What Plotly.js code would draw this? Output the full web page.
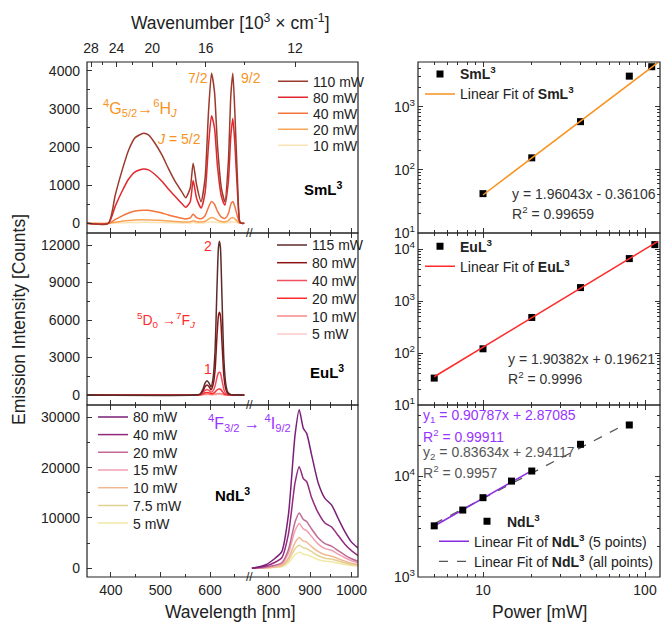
<!DOCTYPE html>
<html><head><meta charset="utf-8">
<script src="https://cdn.plot.ly/plotly-3.0.1.min.js"></script>
<style>html,body{margin:0;padding:0;background:#fff;}#chart{width:661px;height:624px;}</style>
</head><body><div id="chart"></div>
<script>
// ---------- data ----------
const smWl = [352,395,409,422,436,449,466,476,489,503,516,530,543,551,560,566,573,582,590,597,603,609,615,623,630,637,642,646,650,656,660,664,669];
const smNames = ['110 mW','80 mW','40 mW','20 mW','10 mW'];
const sm110 = [0,0,743,1355,1923,2246,2360,2316,2098,1792,1442,1093,830,673,918,1573,1005,568,1180,2928,3933,3452,2054,918,568,1617,3365,3933,2928,918,44,0,0];
const sm80  = [0,0,450,820,1160,1350,1425,1400,1280,1100,900,700,520,420,560,1120,650,400,800,2050,2820,2500,1500,700,480,1100,2300,2750,2100,650,40,0,0];
const sm40  = [0,0,100,190,270,320,345,340,310,270,220,170,130,115,140,240,150,120,200,420,570,500,320,160,130,250,500,570,440,150,10,0,0];
const sm20  = [0,0,30,55,75,88,92,90,82,72,60,48,38,33,40,65,42,35,55,110,150,130,85,45,38,70,135,150,115,40,3,0,0];
const sm10  = [0,0,8,15,20,23,25,24,22,19,16,13,10,9,11,18,11,9,15,30,40,35,23,12,10,19,36,40,31,11,1,0,0];

const euWl = [352,570,580,586,590,594,598,602,606,610,614,617,619,621,624,628,632,636,642,669];
const euNames = ['115 mW','80 mW','40 mW','20 mW','10 mW','5 mW'];
const eu115 = [0,0,80,500,950,1150,950,650,1300,3400,8500,11800,12300,11800,8000,2800,800,200,30,0];
const eu80  = [0,0,55,350,660,800,660,420,800,1900,4700,6350,6620,6350,4300,1500,430,110,15,0];
const eu40  = [0,0,30,200,370,450,370,230,330,700,1400,1780,1830,1760,1200,430,130,35,5,0];
const eu20  = [0,0,15,95,175,210,175,110,130,230,400,470,486,465,320,115,35,10,2,0];
const eu10  = [0,0,6,36,66,80,66,42,50,75,105,118,121,116,80,30,9,3,1,0];
const eu5   = [0,0,2,14,25,30,25,16,18,24,30,33,33,31,22,9,3,1,0,0];

const ndWl = [760,792,816,832,848,864,874,884,892,904,920,936,952,968,984,1000,1016];
const ndNames = ['80 mW','40 mW','20 mW','15 mW','10 mW','7.5 mW','5 mW'];
const nd80 = [0,650,2000,3300,10600,26500,31500,27800,26800,22500,16900,13900,12600,9900,7300,5200,4000];
const nd40 = [0,400,1200,2100,6800,17000,20200,17800,17200,14000,11000,9000,8200,6500,4800,3500,2500];
const nd20 = [0,200,600,1100,3700,9200,11000,9700,9300,7800,6000,4900,4400,3500,2600,1900,1400];
const nd15 = [0,150,500,900,3000,7500,8900,7800,7500,6300,4800,3900,3600,2800,2100,1500,1100];
const nd10 = [0,100,330,600,2000,5100,6100,5400,5200,4300,3300,2700,2400,1900,1400,1000,750];
const nd7  = [0,80,250,450,1550,3900,4600,4050,3900,3300,2500,2000,1850,1450,1050,750,580];
const nd5  = [0,50,170,320,1080,2700,3200,2800,2700,2300,1700,1400,1300,1000,750,530,400];

const smPower = [10,20,40,80,110];
const smInt   = [42,155,580,3050,4300];
const smFitX  = [10,120];
const smFitY  = [40,5000];
const euPower = [5,10,20,40,80,115];
const euInt   = [33,121,486,1830,6620,12300];
const euFitX  = [5,120];
const euFitY  = [35,14200];
const ndPower = [5,7.5,10,15,20,40,80];
const ndInt   = [3210,4600,6100,8900,11200,20600,32000];
const ndFit1X = [5,20];
const ndFit1Y = [3200,11300];
const ndFit2X = [5,80];
const ndFit2Y = [3360,34000];

const wnLabels = ['28','24','20','16','12'];
const wnMinor = [26,22,18,14];

// ---------- styling ----------
const F = 'Liberation Sans, Arial, Helvetica, sans-serif';
const TC = '#222';
const smColors = ['#9c3a2c','#e0282e','#f4743c','#f8a65a','#fbe3b4'];
const euColors = ['#5e2b2b','#8b1414','#f0505c','#ff2a2a','#f88888','#fcc8c8'];
const ndColors = ['#7a1f78','#932a7e','#c06b95','#f29fb0','#f1b894','#e2d291','#f2e9a6'];
const ORANGE = '#f7931e', RED = '#ff2b2b', PURPLE = '#9933ff';

function px(x){ return x/661; }
function py(y){ return 1 - y/624; }

const legends = {};
let legN = 0;
function legendFor(x, yc, size){
  legN++;
  const id = legN === 1 ? 'legend' : 'legend' + legN;
  legends[id] = {x:px(x),y:py(yc),xanchor:'left',yanchor:'middle',bgcolor:'rgba(0,0,0,0)',borderwidth:0,
    font:{family:F,size:size,color:TC},itemclick:false,itemdoubleclick:false};
  return id;
}

const traces = [];
function addSeries(wl, sets, names, colors, xa, ya, lx, ly0, step){
  const ids = names.map((n,i)=>legendFor(lx, ly0 + i*step, 14));
  for(let i = sets.length-1; i >= 0; i--){
    traces.push({x:wl,y:sets[i],xaxis:xa,yaxis:ya,name:names[i],mode:'lines',
      line:{color:colors[i],width:1.5,shape:'spline',smoothing:0.6},legend:ids[i],hoverinfo:'skip'});
  }
}
addSeries(smWl,[sm110,sm80,sm40,sm20,sm10],smNames,smColors,'x','y',273,81.7,16);
addSeries(euWl,[eu115,eu80,eu40,eu20,eu10,eu5],euNames,euColors,'x3','y2',272,245.3,17.8);
addSeries(ndWl,[nd80,nd40,nd20,nd15,nd10,nd7,nd5],ndNames,ndColors,'x6','y3',93,417.3,17.7);

// empty traces so every axis pair is a subplot
[['x2','y'],['x4','y2'],['x5','y3'],['x7','y']].forEach(p=>traces.push({x:[null],y:[null],xaxis:p[0],yaxis:p[1],mode:'lines',showlegend:false,hoverinfo:'skip'}));

const mk = {symbol:'square',size:7,color:'#000'};
traces.push({x:smPower,y:smInt,xaxis:'x8',yaxis:'y4',mode:'markers',marker:mk,name:'<b>SmL<sup>3</sup></b>',legend:legendFor(420,74.3,14)});
traces.push({x:smFitX,y:smFitY,xaxis:'x8',yaxis:'y4',mode:'lines',line:{color:ORANGE,width:1.5},name:'Linear Fit of <b>SmL<sup>3</sup></b>',legend:legendFor(420,94.3,14)});
traces.push({x:euPower,y:euInt,xaxis:'x9',yaxis:'y5',mode:'markers',marker:mk,name:'<b>EuL<sup>3</sup></b>',legend:legendFor(420,246.7,14)});
traces.push({x:euFitX,y:euFitY,xaxis:'x9',yaxis:'y5',mode:'lines',line:{color:RED,width:1.5},name:'Linear Fit of <b>EuL<sup>3</sup></b>',legend:legendFor(420,266.7,14)});
traces.push({x:ndFit2X,y:ndFit2Y,xaxis:'x10',yaxis:'y6',mode:'lines',line:{color:'#555',width:1.3,dash:'dash'},name:'Linear Fit of <b>NdL<sup>3</sup></b> (all points)',legend:legendFor(434,561.7,14)});
traces.push({x:ndFit1X,y:ndFit1Y,xaxis:'x10',yaxis:'y6',mode:'lines',line:{color:'#8a2be2',width:1.5},name:'Linear Fit of <b>NdL<sup>3</sup></b> (5 points)',legend:legendFor(434,541.7,14)});
traces.push({x:ndPower,y:ndInt,xaxis:'x10',yaxis:'y6',mode:'markers',marker:mk,name:'<b>NdL<sup>3</sup></b>',legend:legendFor(467,521.7,14)});

const base = {showline:false,zeroline:false,showgrid:false,ticks:'inside',ticklen:5,tickwidth:1,tickcolor:'#333',
  tickfont:{family:F,size:14,color:TC},exponentformat:'none',fixedrange:true};
function ax(o){ return Object.assign({}, base, o); }
const LX = [px(87),px(250)], RX = [px(250),px(358)], PX = [px(418),px(660)];
const R1 = [py(233),py(62)], R2 = [py(405),py(233)], R3 = [py(577),py(405)];
const lmin = {ticks:'inside',ticklen:3,dtick:50,tick0:0,tickcolor:'#333'};
const logMinorX = {ticks:'inside',ticklen:3,tickcolor:'#333',tickmode:'array',tickvals:[5,6,7,8,9,20,30,40,50,60,70,80,90]};

function logMinorY(a,b){ const v=[]; for(let e=a;e<b;e++){ for(let d=2;d<=9;d++) v.push(d*Math.pow(10,e)); } return v; }
function powLabels(a,b){ const t=[]; for(let e=a;e<=b;e++) t.push('10<sup>'+e+'</sup>'); return t; }
function powVals(a,b){ const t=[]; for(let e=a;e<=b;e++) t.push(Math.pow(10,e)); return t; }

const layout = {
  width:661,height:624,margin:{l:0,r:0,t:0,b:0},paper_bgcolor:'#fff',plot_bgcolor:'rgba(0,0,0,0)',
  font:{family:F,color:TC},
  xaxis: ax({domain:LX,range:[352,680.6],anchor:'y',dtick:100,tick0:0,showticklabels:false,minor:lmin}),
  xaxis2:ax({domain:RX,range:[755.4,1015.7],anchor:'y',dtick:100,tick0:0,showticklabels:false,minor:lmin}),
  xaxis3:ax({domain:LX,range:[352,680.6],anchor:'y2',dtick:100,tick0:0,showticklabels:false,minor:lmin,mirror:'ticks'}),
  xaxis4:ax({domain:RX,range:[755.4,1015.7],anchor:'y2',dtick:100,tick0:0,showticklabels:false,minor:lmin,mirror:'ticks'}),
  xaxis5:ax({domain:LX,range:[352,680.6],anchor:'y3',dtick:100,tick0:0,tickformat:'d',minor:lmin,mirror:'ticks',ticklabelstandoff:3}),
  xaxis6:ax({domain:RX,range:[755.4,1015.7],anchor:'y3',dtick:100,tick0:0,tickformat:'d',minor:lmin,mirror:'ticks',ticklabelstandoff:3}),
  xaxis7:ax({domain:[px(87),px(358)],range:[347.8,980.4],anchor:'y',side:'top',tickmode:'array',
    tickvals:wnLabels.map(s=>1e4/Number(s)),ticktext:wnLabels,ticklabelstandoff:5,
    minor:{ticks:'inside',ticklen:3,tickcolor:'#333',tickmode:'array',tickvals:wnMinor.map(v=>1e4/v)}}),
  yaxis: ax({domain:R1,range:[-254,4228],anchor:'x',dtick:1000,tick0:0,tickformat:'d',ticklabelstandoff:6,minor:{ticks:'inside',ticklen:3,dtick:500,tick0:0}}),
  yaxis2:ax({domain:R2,range:[-800,12960],anchor:'x3',dtick:3000,tick0:0,tickformat:'d',ticklabelstandoff:6,minor:{ticks:'inside',ticklen:3,dtick:1500,tick0:0}}),
  yaxis3:ax({domain:R3,range:[-1729,32444],anchor:'x5',dtick:10000,tick0:0,tickformat:'d',ticklabelstandoff:6,minor:{ticks:'inside',ticklen:3,dtick:5000,tick0:0}}),
  xaxis8: ax({domain:PX,type:'log',range:[0.5988,2.0926],anchor:'y4',tickmode:'array',tickvals:[10,100],ticktext:['10','100'],showticklabels:false,minor:logMinorX,mirror:'ticks'}),
  xaxis9: ax({domain:PX,type:'log',range:[0.5988,2.0926],anchor:'y5',tickmode:'array',tickvals:[10,100],ticktext:['10','100'],showticklabels:false,minor:logMinorX,mirror:'ticks'}),
  xaxis10:ax({domain:PX,type:'log',range:[0.5988,2.0926],anchor:'y6',tickmode:'array',tickvals:[10,100],ticktext:['10','100'],minor:logMinorX,mirror:'ticks',ticklabelstandoff:3}),
  yaxis4:ax({domain:R1,type:'log',range:[1,3.708],anchor:'x8',tickmode:'array',tickvals:powVals(1,3),ticktext:powLabels(1,3),ticklabelstandoff:2,mirror:'ticks',
    minor:{ticks:'inside',ticklen:3,tickcolor:'#333',tickmode:'array',tickvals:logMinorY(1,4)}}),
  yaxis5:ax({domain:R2,type:'log',range:[1,4.314],anchor:'x9',tickmode:'array',tickvals:powVals(1,4),ticktext:powLabels(1,4),ticklabelstandoff:2,mirror:'ticks',
    minor:{ticks:'inside',ticklen:3,tickcolor:'#333',tickmode:'array',tickvals:logMinorY(1,5)}}),
  yaxis6:ax({domain:R3,type:'log',range:[3,4.703],anchor:'x10',tickmode:'array',tickvals:powVals(3,4),ticktext:powLabels(3,4),ticklabelstandoff:2,mirror:'ticks',
    minor:{ticks:'inside',ticklen:3,tickcolor:'#333',tickmode:'array',tickvals:logMinorY(3,5)}}),
  showlegend:true
};
Object.assign(layout, legends);

const shapes = [];
[[87,62,358,233],[87,233,358,405],[87,405,358,577],[418,62,660,233],[418,233,660,405],[418,405,660,577]].forEach(r=>{
  shapes.push({type:'rect',xref:'paper',yref:'paper',x0:px(r[0]),y0:py(r[1]),x1:px(r[2]),y1:py(r[3]),line:{color:'#222',width:1.2},layer:'above'});
});
layout.shapes = shapes;

const ann = [];
function A(text,x,y,o){ const a = {text:text,x:px(x),y:py(y),xref:'paper',yref:'paper',showarrow:false,xanchor:'center',yanchor:'middle',
  font:{family:F,size:14,color:TC}}; Object.assign(a,o||{}); ann.push(a); }
const TF = {family:F,size:17.5,color:TC};
A('Wavenumber [10<sup>3</sup> × cm<sup>-1</sup>]',230,22,{font:TF});
A('Emission Intensity [Counts]',19,320,{textangle:-90,font:TF});
A('Wavelength [nm]',230,612,{font:TF});
A('Power [mW]',539,612,{font:TF});
A('<sup>4</sup>G<sub>5/2</sub>→<sup>6</sup>H<sub><i>J</i></sub>',140,108,{font:{family:F,size:16,color:ORANGE}});
A('<i>J</i> = 5/2',179,139,{font:{family:F,size:14,color:ORANGE}});
A('7/2',198,78,{font:{family:F,size:14,color:ORANGE}});
A('9/2',251,78,{font:{family:F,size:14,color:ORANGE}});
A('<b>SmL<sup>3</sup></b>',323,188,{font:{family:F,size:15,color:'#000'}});
A('2',208,246,{font:{family:F,size:14,color:RED}});
A('1',208,369,{font:{family:F,size:14,color:RED}});
A('<sup>5</sup>D<sub>0</sub> →<sup>7</sup>F<sub><i>J</i></sub>',166,320,{font:{family:F,size:14,color:RED}});
A('<b>EuL<sup>3</sup></b>',327,371,{font:{family:F,size:15,color:'#000'}});
A('<sup>4</sup>F<sub>3/2</sub> → <sup>4</sup>I<sub>9/2</sub>',250,423,{font:{family:F,size:16,color:PURPLE}});
A('<b>NdL<sup>3</sup></b>',232,494,{font:{family:F,size:15,color:'#000'}});
const eqF = c=>({family:F,size:14,color:c});
A('y = 1.96043x - 0.36106',510,194,{xanchor:'left',font:eqF('#333')});
A('R<sup>2</sup> = 0.99659',510,213,{xanchor:'left',font:eqF('#333')});
A('y = 1.90382x + 0.19621',506,359,{xanchor:'left',font:eqF('#333')});
A('R<sup>2</sup> = 0.9996',506,378,{xanchor:'left',font:eqF('#333')});
A('y<sub>1</sub> = 0.90787x + 2.87085',421,416,{xanchor:'left',font:eqF(PURPLE)});
A('R<sup>2</sup> = 0.99911',421,436,{xanchor:'left',font:eqF(PURPLE)});
A('y<sub>2</sub> = 0.83634x + 2.94117',421,453,{xanchor:'left',font:eqF('#555')});
A('R<sup>2</sup> = 0.9957',421,472,{xanchor:'left',font:eqF('#555')});
[233,405,577].forEach(y=>A('//',250,y,{font:{family:F,size:12,color:'#222'}}));
layout.annotations = ann;

Plotly.newPlot('chart',traces,layout,{staticPlot:true,displayModeBar:false});
</script></body></html>
